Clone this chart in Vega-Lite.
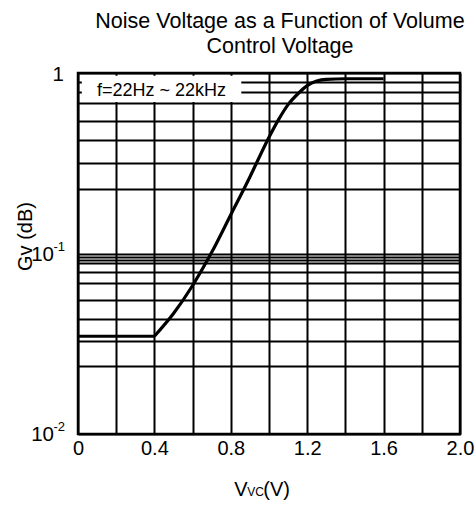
{
  "$schema": "https://vega.github.io/schema/vega-lite/v6.json",
  "autosize": {"type": "none"},
  "padding": {"left": 78, "top": 73, "right": 14, "bottom": 74},
  "width": 382,
  "height": 361,
  "background": "white",
  "config": {
    "font": "Liberation Sans",
    "view": {"stroke": "black", "strokeWidth": 2.5},
    "text": {"font": "Liberation Sans", "color": "black"}
  },
  "title": {
    "text": ["Noise Voltage as a Function of Volume", "Control Voltage"],
    "fontSize": 21.5,
    "fontWeight": "normal",
    "font": "Liberation Sans",
    "color": "black",
    "lineHeight": 24.5,
    "anchor": "middle",
    "frame": "group",
    "dx": 11,
    "offset": 8
  },
  "resolve": {"axis": {"x": "independent", "y": "independent"}},
  "datasets": {
    "curve": [
      {"v": 0, "g": 0.0348, "seg": "flat"},
      {"v": 0.4, "g": 0.0348, "seg": "flat"},
      {"v": 0.4, "g": 0.0348, "seg": "rise"},
      {"v": 0.5, "g": 0.0465, "seg": "rise"},
      {"v": 0.6, "g": 0.0665, "seg": "rise"},
      {"v": 0.7, "g": 0.1015, "seg": "rise"},
      {"v": 0.8, "g": 0.164, "seg": "rise"},
      {"v": 0.9, "g": 0.2656, "seg": "rise"},
      {"v": 1.0, "g": 0.441, "seg": "rise"},
      {"v": 1.05, "g": 0.552, "seg": "rise"},
      {"v": 1.1, "g": 0.668, "seg": "rise"},
      {"v": 1.15, "g": 0.765, "seg": "rise"},
      {"v": 1.2, "g": 0.852, "seg": "rise"},
      {"v": 1.25, "g": 0.902, "seg": "rise"},
      {"v": 1.3, "g": 0.922, "seg": "rise"},
      {"v": 1.4, "g": 0.929, "seg": "rise"},
      {"v": 1.6, "g": 0.929, "seg": "rise"}
    ],
    "ylabels": [
      {"val": 1, "base": "1", "exp": ""},
      {"val": 0.1, "base": "10", "exp": "-1"},
      {"val": 0.01, "base": "10", "exp": "-2"}
    ],
    "note": [
      {"label": "f=22Hz ~ 22kHz"}
    ]
  },
  "layer": [
    {
      "data": {"name": "curve"},
      "mark": {"type": "line", "color": "black", "strokeWidth": 3.2, "interpolate": "monotone"},
      "encoding": {
        "detail": {"field": "seg", "type": "nominal"},
        "x": {
          "field": "v",
          "type": "quantitative",
          "scale": {"domain": [0, 2], "nice": false},
          "axis": {
            "values": [0, 0.2, 0.4, 0.6, 0.8, 1, 1.2, 1.4, 1.6, 1.8, 2],
            "labelExpr": "(round(datum.value*10) % 4 == 0) ? (datum.value == 0 ? '0' : format(datum.value, '.1f')) : ''",
            "grid": true,
            "gridColor": "black",
            "gridWidth": 2,
            "gridOpacity": 1,
            "ticks": false,
            "domain": false,
            "labelFontSize": 20,
            "labelColor": "black",
            "labelFont": "Liberation Sans",
            "labelPadding": 4,
            "labelFlush": false,
            "labelOverlap": false,
            "labelBound": false,
            "title": null
          }
        },
        "y": {
          "field": "g",
          "type": "quantitative",
          "scale": {"type": "log", "domain": [0.01, 1], "nice": false},
          "axis": {
            "values": [1, 0.897, 0.789, 0.684, 0.545, 0.423, 0.3166, 0.2266, 0.1, 0.0959, 0.092, 0.0882, 0.0794, 0.0685, 0.0556, 0.0432, 0.0326, 0.0237, 0.01],
            "grid": true,
            "gridColor": "black",
            "gridWidth": 2,
            "gridOpacity": 1,
            "ticks": false,
            "domain": false,
            "labels": false,
            "title": "Gv (dB)",
            "titleFont": "Liberation Sans",
            "titleFontSize": 20,
            "titleFontWeight": "normal",
            "titleColor": "black",
            "titleAngle": 270,
            "titleAlign": "center",
            "titleBaseline": "alphabetic",
            "titleX": -47,
            "titleY": 163
          }
        }
      }
    },
    {
      "data": {"name": "note"},
      "mark": {"type": "rect", "color": "white", "opacity": 1},
      "encoding": {
        "x": {"datum": 0.02, "type": "quantitative", "axis": null},
        "x2": {"datum": 0.855},
        "y": {"datum": 0.966, "type": "quantitative", "axis": null},
        "y2": {"datum": 0.69}
      }
    },
    {
      "data": {"name": "note"},
      "mark": {"type": "text", "fontSize": 18, "align": "center", "baseline": "alphabetic", "color": "black"},
      "encoding": {
        "x": {"datum": 0.437, "type": "quantitative", "axis": null},
        "y": {"datum": 0.742, "type": "quantitative", "axis": null},
        "text": {"field": "label"}
      }
    },
    {
      "data": {"name": "ylabels"},
      "transform": [{"filter": "datum.exp == ''"}],
      "mark": {"type": "text", "fontSize": 20.5, "align": "right", "baseline": "middle", "dx": -14, "dy": 2},
      "encoding": {
        "x": {"datum": 0, "type": "quantitative", "axis": null},
        "y": {"field": "val", "type": "quantitative", "axis": null},
        "text": {"field": "base"}
      }
    },
    {
      "data": {"name": "ylabels"},
      "transform": [{"filter": "datum.exp != ''"}],
      "mark": {"type": "text", "fontSize": 20.5, "align": "right", "baseline": "middle", "dx": -24, "dy": 1},
      "encoding": {
        "x": {"datum": 0, "type": "quantitative", "axis": null},
        "y": {"field": "val", "type": "quantitative", "axis": null},
        "text": {"field": "base"}
      }
    },
    {
      "data": {"name": "ylabels"},
      "transform": [{"filter": "datum.exp != ''"}],
      "mark": {"type": "text", "fontSize": 13, "align": "right", "baseline": "middle", "dx": -13, "dy": -7},
      "encoding": {
        "x": {"datum": 0, "type": "quantitative", "axis": null},
        "y": {"field": "val", "type": "quantitative", "axis": null},
        "text": {"field": "exp"}
      }
    },
    {
      "data": {"name": "note"},
      "mark": {"type": "text", "fontSize": 20, "align": "left", "baseline": "alphabetic", "dx": 0, "dy": 62.4, "text": "V"},
      "encoding": {
        "x": {"datum": 0.818, "type": "quantitative", "axis": null},
        "y": {"datum": 0.01, "type": "quantitative", "axis": null}
      }
    },
    {
      "data": {"name": "note"},
      "mark": {"type": "text", "fontSize": 12, "align": "left", "baseline": "alphabetic", "dx": 13, "dy": 62.4, "text": "VC"},
      "encoding": {
        "x": {"datum": 0.818, "type": "quantitative", "axis": null},
        "y": {"datum": 0.01, "type": "quantitative", "axis": null}
      }
    },
    {
      "data": {"name": "note"},
      "mark": {"type": "text", "fontSize": 20, "align": "left", "baseline": "alphabetic", "dx": 29, "dy": 62.4, "text": "(V)"},
      "encoding": {
        "x": {"datum": 0.818, "type": "quantitative", "axis": null},
        "y": {"datum": 0.01, "type": "quantitative", "axis": null}
      }
    }
  ]
}
